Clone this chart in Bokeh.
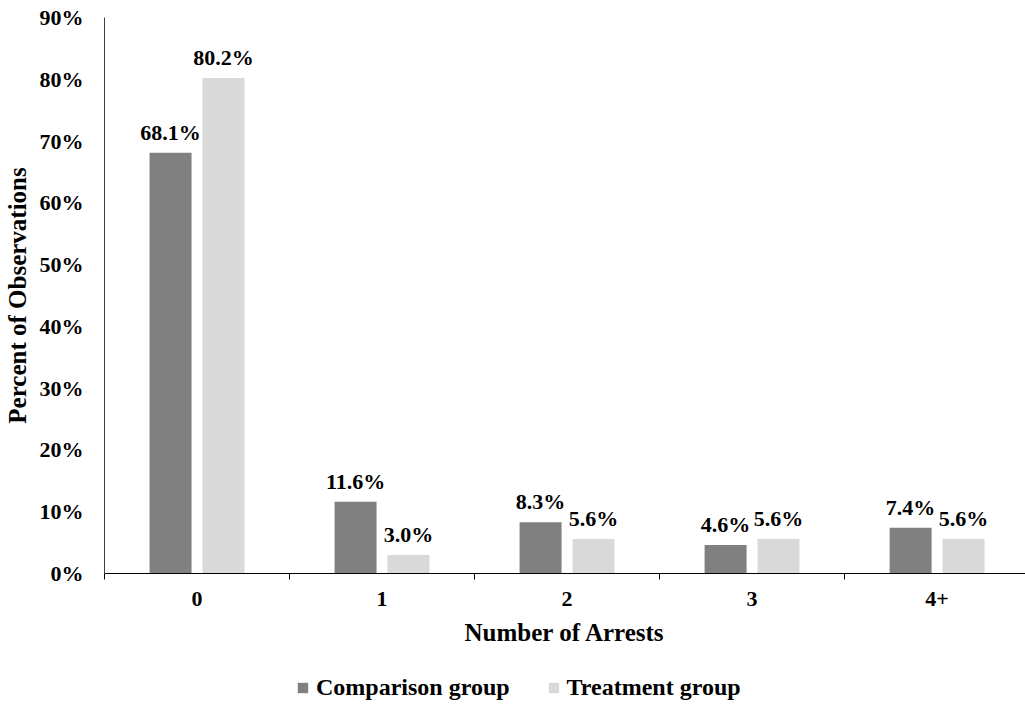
from bokeh.plotting import figure
from bokeh.models import (ColumnDataSource, Range1d, FixedTicker, PrintfTickFormatter,
                          Legend, LegendItem, LinearAxis)
from bokeh.layouts import column
from bokeh.core.properties import value
from bokeh.embed import file_html
from bokeh.resources import INLINE

categories = ["0", "1", "2", "3", "4+"]
comparison = [68.1, 11.6, 8.3, 4.6, 7.4]
treatment = [80.2, 3.0, 5.6, 5.6, 5.6]
series_names = ["Comparison group", "Treatment group"]
y_ticks = [0, 10, 20, 30, 40, 50, 60, 70, 80, 90]

FONT = "Liberation Serif"
FS = "22px"
FS_T = "25px"
FS_L = "24px"
C_COMP = "#808080"
C_TREAT = "#d9d9d9"

centers = [i + 0.5 for i in range(len(categories))]
off = 0.143
bw = 0.227

src_c = ColumnDataSource(dict(x=[c - off for c in centers], top=comparison,
                              lab=[f"{v:.1f}%" for v in comparison]))
src_t = ColumnDataSource(dict(x=[c + off for c in centers], top=treatment,
                              lab=[f"{v:.1f}%" for v in treatment]))

p = figure(frame_width=921, frame_height=556, output_backend="svg", toolbar_location=None,
           x_range=Range1d(0, 4.978), y_range=Range1d(0, 90),
           min_border_left=104, min_border_right=0, min_border_top=17, min_border_bottom=92,
           x_axis_type=None, y_axis_type=None)
p.outline_line_color = None
p.xgrid.visible = False
p.ygrid.visible = False

rc = p.vbar(x="x", top="top", width=bw, bottom=0, source=src_c, fill_color=C_COMP, line_color=None)
rt = p.vbar(x="x", top="top", width=bw, bottom=0, source=src_t, fill_color=C_TREAT, line_color=None)

for s in (src_c, src_t):
    p.text(x="x", y="top", text="lab", source=s, text_align="center", text_baseline="bottom",
           y_offset=-8, text_font=value(FONT), text_font_style="bold", text_font_size=FS,
           text_color="#000000")

# x axis
xa = LinearAxis(ticker=FixedTicker(ticks=centers, minor_ticks=list(range(len(categories) + 1))),
                major_label_overrides={c: lab for c, lab in zip(centers, categories)})
xa.major_tick_out = 0
xa.major_tick_in = 0
xa.minor_tick_out = 6
xa.minor_tick_in = 0
xa.axis_line_color = "#000000"
xa.minor_tick_line_color = "#000000"
xa.major_label_text_font = FONT
xa.major_label_text_font_style = "bold"
xa.major_label_text_font_size = FS
xa.major_label_text_color = "#000000"
xa.major_label_standoff = 12
xa.axis_label = "Number of Arrests"
xa.axis_label_text_font = FONT
xa.axis_label_text_font_style = "bold"
xa.axis_label_text_font_size = FS_T
xa.axis_label_text_color = "#000000"
xa.axis_label_standoff = 10
p.add_layout(xa, "below")

# y axis
ya = LinearAxis(ticker=FixedTicker(ticks=y_ticks), formatter=PrintfTickFormatter(format="%d%%"))
ya.major_tick_out = 0
ya.major_tick_in = 0
ya.minor_tick_out = 0
ya.minor_tick_in = 0
ya.axis_line_color = "#404040"
ya.major_label_text_font = FONT
ya.major_label_text_font_style = "bold"
ya.major_label_text_font_size = FS
ya.major_label_text_color = "#000000"
ya.major_label_standoff = 21
ya.axis_label = "Percent of Observations"
ya.axis_label_text_font = FONT
ya.axis_label_text_font_style = "bold"
ya.axis_label_text_font_size = FS_T
ya.axis_label_text_color = "#000000"
ya.axis_label_standoff = 6
p.add_layout(ya, "left")

# legend strip below the chart (bars drawn out of view; only the legend shows)
lg = figure(width=1025, height=40, output_backend="svg", toolbar_location=None,
            x_range=Range1d(0, 4.978), y_range=Range1d(200, 201),
            min_border=0, x_axis_type=None, y_axis_type=None)
lg.outline_line_color = None
lg.xgrid.visible = False
lg.ygrid.visible = False
lc = lg.vbar(x="x", top="top", width=bw, bottom=0, source=src_c, fill_color=C_COMP, line_color=None)
lt = lg.vbar(x="x", top="top", width=bw, bottom=0, source=src_t, fill_color=C_TREAT, line_color=None)
legend = Legend(items=[LegendItem(label=series_names[0], renderers=[lc]),
                       LegendItem(label=series_names[1], renderers=[lt])],
                orientation="horizontal", location=(192, 4),
                label_text_font=FONT, label_text_font_style="bold", label_text_font_size=FS_L,
                label_text_color="#000000",
                glyph_width=13, glyph_height=13, spacing=37, label_standoff=7,
                border_line_color=None, background_fill_alpha=0, margin=0, padding=0)
lg.add_layout(legend, "center")

open("out.html", "w").write(file_html(column(p, lg, spacing=0), INLINE))
